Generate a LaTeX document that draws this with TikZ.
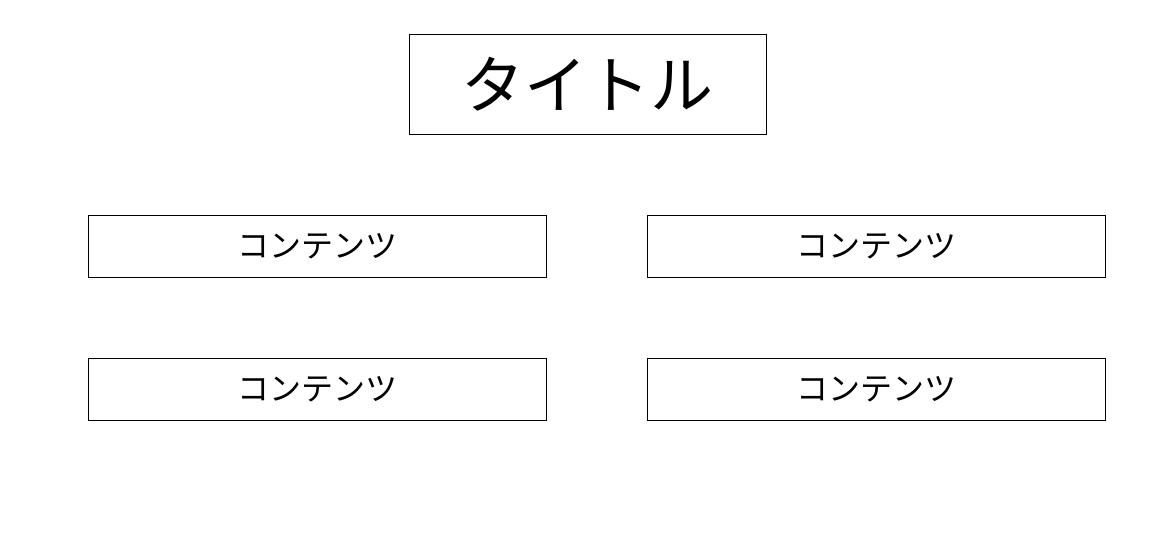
\documentclass[tikz,border=0pt]{standalone}
\usepackage{fontspec}
\newfontfamily\cjk{Noto Sans CJK JP}
\begin{document}
\begin{tikzpicture}[x=1pt,y=-1pt,
  box/.style={draw=black,line width=0.9pt,inner sep=0pt,anchor=center},
  titlebox/.style={box,minimum width=357pt,minimum height=100pt,font=\cjk\fontsize{63}{66}\selectfont},
  contentbox/.style={box,minimum width=458pt,minimum height=62pt,font=\cjk\fontsize{32}{36}\selectfont}]
\useasboundingbox (0,0) rectangle (1176,556);
\node[titlebox] (title) at (587.5,84) {タイトル};
\node[contentbox] (c1) at (317,246) {\raisebox{-2pt}{コンテンツ}};
\node[contentbox] (c2) at (876,246) {\raisebox{-2pt}{コンテンツ}};
\node[contentbox] (c3) at (317,389) {\raisebox{-2pt}{コンテンツ}};
\node[contentbox] (c4) at (876,389) {\raisebox{-2pt}{コンテンツ}};
\end{tikzpicture}
\end{document}
